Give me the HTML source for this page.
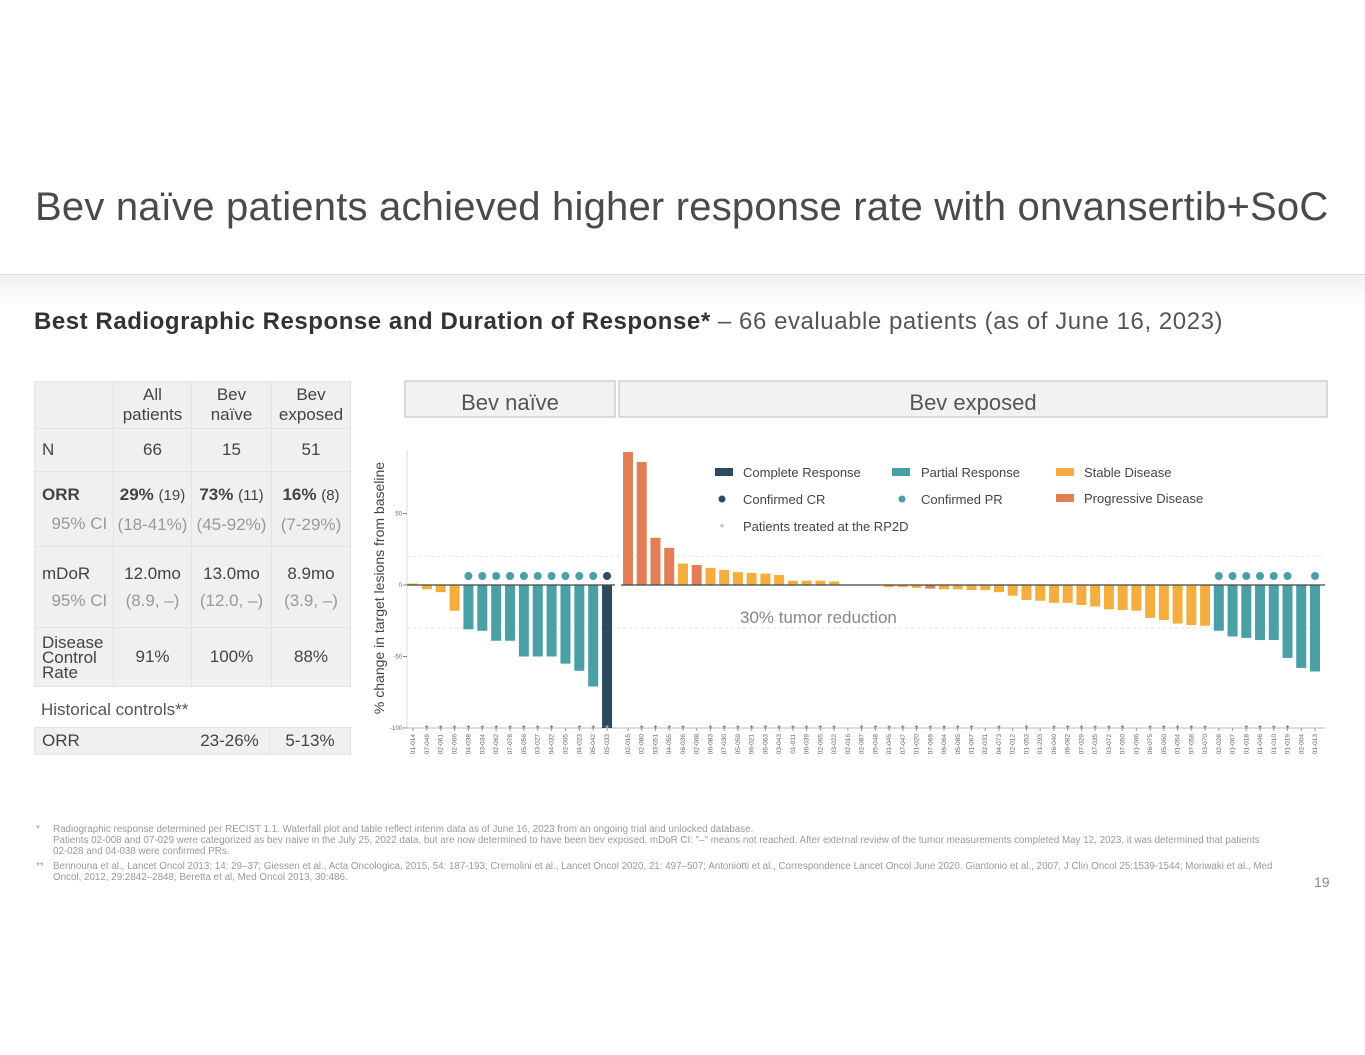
<!DOCTYPE html>
<html><head><meta charset="utf-8">
<style>
body{margin:0;width:1365px;height:1055px;position:relative;background:#fff;font-family:"Liberation Sans",sans-serif;overflow:hidden}
.abs{position:absolute}
#title{left:35px;top:185px;font-size:40px;color:#4a4a4a;white-space:nowrap;letter-spacing:0.2px}
#band{left:0;top:274px;width:1365px;height:30px;border-top:1px solid #ddd;background:linear-gradient(#f1f1f1,#fff)}
#sub{left:34px;top:308px;font-size:24px;color:#555;white-space:nowrap;letter-spacing:0.55px}
#sub b{color:#333}
table{border-collapse:collapse;font-size:17px;color:#444}
td{background:#f0f0f0;border:1px solid #e3e3e3;text-align:center;padding:0}
.l{text-align:left;padding-left:7px}
.g{color:#999}
#foot{left:36px;top:824px;font-size:9.8px;color:#999;line-height:11px;width:1300px;white-space:nowrap}
#foot div{position:relative;padding-left:17px}
#foot span{position:absolute;left:0}
#pg{left:1314px;top:874px;font-size:14px;color:#888}
</style></head><body>
<div id="title" class="abs">Bev naïve patients achieved higher response rate with onvansertib+SoC</div>
<div id="band" class="abs"></div>
<div id="sub" class="abs"><b>Best Radiographic Response and Duration of Response*</b> – 66 evaluable patients (as of June 16, 2023)</div>

<table class="abs" style="left:34px;top:381px;width:317px">
<tr style="height:47px"><td style="width:78px"></td><td style="width:77px">All<br>patients</td><td style="width:79px">Bev<br>naïve</td><td>Bev<br>exposed</td></tr>
<tr style="height:43px"><td class="l">N</td><td>66</td><td>15</td><td>51</td></tr>
<tr style="height:75px"><td class="l" style="line-height:29px"><b>ORR</b><br><span class="g">&nbsp;&nbsp;95% CI</span></td><td style="line-height:29px"><b>29%</b> <span style="font-size:15px">(19)</span><br><span class="g">(18-41%)</span></td><td style="line-height:29px"><b>73%</b> <span style="font-size:15px">(11)</span><br><span class="g">(45-92%)</span></td><td style="line-height:29px"><b>16%</b> <span style="font-size:15px">(8)</span><br><span class="g">(7-29%)</span></td></tr>
<tr style="height:81px"><td class="l" style="line-height:27px">mDoR<br><span class="g">&nbsp;&nbsp;95% CI</span></td><td style="line-height:27px">12.0mo<br><span class="g">(8.9, –)</span></td><td style="line-height:27px">13.0mo<br><span class="g">(12.0, –)</span></td><td style="line-height:27px">8.9mo<br><span class="g">(3.9, –)</span></td></tr>
<tr style="height:59px"><td class="l" style="line-height:15px">Disease<br>Control<br>Rate</td><td>91%</td><td>100%</td><td>88%</td></tr>
</table>
<div class="abs" style="left:41px;top:700px;font-size:17px;color:#555">Historical controls**</div>
<table class="abs" style="left:34px;top:727px;width:317px">
<tr style="height:27px"><td class="l" style="width:148px;border-right:none">ORR</td><td style="width:79px;border-left:none">23-26%</td><td>5-13%</td></tr>
</table>

<svg id="chart" class="abs" style="left:0;top:0" width="1365" height="1055"></svg>

<div id="foot" class="abs">
<div><span>*</span>Radiographic response determined per RECIST 1.1. Waterfall plot and table reflect interim data as of June 16, 2023 from an ongoing trial and unlocked database.<br>Patients 02-008 and 07-029 were categorized as bev naive in the July 25, 2022 data, but are now determined to have been bev exposed. mDoR CI: "–" means not reached. After external review of the tumor measurements completed May 12, 2023, it was determined that patients<br>02-028 and 04-038 were confirmed PRs.</div>
<div style="margin-top:4px"><span>**</span>Bennouna et al., Lancet Oncol 2013; 14: 29–37; Giessen et al., Acta Oncologica, 2015, 54: 187-193; Cremolini et al., Lancet Oncol 2020, 21: 497–507; Antoniotti et al., Correspondence Lancet Oncol June 2020. Giantonio et al., 2007, J Clin Oncol 25:1539-1544; Moriwaki et al., Med<br>Oncol, 2012, 29:2842–2848; Beretta et al, Med Oncol 2013, 30:486.</div>
</div>
<div id="pg" class="abs">19</div>

<script>
const naiveIds=["01-014","07-049","02-061","02-066","04-038","03-034","02-062","07-078","05-056","03-027","04-032","02-005","04-023","05-042","05-033"];
const naiveVals=[1,-3,-5,-18,-31,-32,-39,-39,-50,-50,-50,-55,-60,-71,-100];
const naiveResp=["SD","SD","SD","SD","PR","PR","PR","PR","PR","PR","PR","PR","PR","PR","CR"];
const naiveConf=[0,0,0,0,1,1,1,1,1,1,1,1,1,1,1];
const naiveRp2d=[0,1,1,1,1,1,1,1,1,1,1,0,1,1,1];
const expIds=["02-015","02-080","03-051","04-055","06-036","02-008","06-083","07-030","05-059","06-021","06-063","03-043","01-011","06-039","02-065","03-022","02-016","02-087","05-048","01-045","07-047","01-020","07-069","06-064","05-085","01-067","02-031","04-073","02-012","01-053","01-203","06-040","06-082","07-029","07-035","03-072","07-050","01-006","06-075","05-060","01-054","07-058","03-070","02-028","01-007","01-018","01-046","01-010","01-019","02-004","01-013"];
const expVals=[93,86,33,26,15,14,12,10.5,9,8.5,8,7,3,3,3,2.5,0,0,0,-1.5,-1.5,-2,-2.5,-3,-3,-3.5,-3.5,-5,-7.5,-10.5,-11,-12.5,-12.5,-14,-15,-17,-17.5,-18,-23,-24.5,-27,-28,-28.5,-32,-36,-37,-38.5,-38.5,-51,-58,-60.5];
const expResp=["PD","PD","PD","PD","SD","PD","SD","SD","SD","SD","SD","SD","SD","SD","SD","SD","SD","SD","SD","SD","SD","SD","PD","SD","SD","SD","SD","SD","SD","SD","SD","SD","SD","SD","SD","SD","SD","SD","SD","SD","SD","SD","SD","PR","PR","PR","PR","PR","PR","PR","PR"];
const expConf=[0,0,0,0,0,0,0,0,0,0,0,0,0,0,0,0,0,0,0,0,0,0,0,0,0,0,0,0,0,0,0,0,0,0,0,0,0,0,0,0,0,0,0,1,1,1,1,1,1,0,1];
const expRp2d=[0,1,1,1,1,0,1,1,1,1,1,1,1,1,1,1,0,1,1,1,1,1,1,1,1,1,0,1,0,1,0,1,1,1,1,1,1,0,1,1,1,1,1,0,0,1,1,1,1,0,0];
const yTicks=[50,0,-50,-100];

const NS="http://www.w3.org/2000/svg";
const svg=document.getElementById('chart');
const col={CR:"#2d4b5f",PR:"#4aa0a5",SD:"#f4ae3f",PD:"#e27d55"};
function y(v){return 585-v*1.43;}
function xN(i){return 413+i*13.86;}
function xE(i){return 628+i*13.74;}
function mk(tag,a,parent){const e=document.createElementNS(NS,tag);for(const k in a)e.setAttribute(k,a[k]);(parent||svg).appendChild(e);return e;}

let h=mk('rect',{x:405,y:381,width:210,height:36,fill:"#f1f2f1",stroke:"#bbb"});


let t=mk('text',{x:510,y:410,"text-anchor":"middle","font-size":22,fill:"#555","font-family":"Liberation Sans"});t.textContent="Bev naïve";
h=mk('rect',{x:619,y:381,width:708,height:36,fill:"#f1f2f1",stroke:"#bbb"});


t=mk('text',{x:973,y:410,"text-anchor":"middle","font-size":22,fill:"#555","font-family":"Liberation Sans"});t.textContent="Bev exposed";

t=mk('text',{x:0,y:0,transform:"translate(384,588) rotate(-90)","text-anchor":"middle","font-size":14,fill:"#444","font-family":"Liberation Sans"});


t.textContent="% change in target lesions from baseline";

[20,-30].forEach(v=>mk('line',{x1:407,x2:1325,y1:y(v),y2:y(v),stroke:"#e4e4e4","stroke-dasharray":"3,3"}));
mk('line',{x1:407,x2:407,y1:450,y2:728,stroke:"#ddd"});
yTicks.forEach(v=>{
 mk('line',{x1:403,x2:407,y1:y(v),y2:y(v),stroke:"#888"});
 const tt=mk('text',{x:402,y:y(v)+2,"text-anchor":"end","font-size":6,fill:"#666","font-family":"Liberation Sans"});
 
 
 tt.textContent=v;
});
mk('line',{x1:407,x2:1325,y1:728,y2:728,stroke:"#bbb"});
mk('text',{x:740,y:623,"font-size":17,fill:"#888","font-family":"Liberation Sans"}).textContent="30% tumor reduction";

function drawSet(ids,vals,resp,conf,rp2d,xf){
 ids.forEach((id,i)=>{
  const cx=xf(i),v=vals[i];
  if(v!==0){
   const r=mk('rect',{x:cx-5,y:Math.min(y(v),y(0)),width:10,height:Math.abs(y(v)-y(0)),fill:col[resp[i]]});
   
   
  }
  if(conf[i]){
   const c=mk('circle',{cx:cx,cy:576,r:4,fill:resp[i]==="CR"?col.CR:col.PR});
   
   
  }
  if(rp2d[i]){
   const s=mk('text',{x:cx,y:732,"text-anchor":"middle","font-size":10,fill:resp[i]==="CR"?"#ccc":"#666","font-family":"Liberation Sans"});
   
   
   s.textContent="*";
  }
  mk('line',{x1:cx,x2:cx,y1:728,y2:731,stroke:"#999"});
  const l=mk('text',{x:0,y:0,transform:`translate(${cx+2},734) rotate(-90)`,"text-anchor":"end","font-size":6.5,fill:"#666","font-family":"Liberation Sans"});
  
  
  l.textContent=id;
 });
}
drawSet(naiveIds,naiveVals,naiveResp,naiveConf,naiveRp2d,xN);
drawSet(expIds,expVals,expResp,expConf,expRp2d,xE);
mk('line',{x1:407,x2:615,y1:585,y2:585,stroke:"#444","stroke-width":1.3});
mk('line',{x1:621,x2:1325,y1:585,y2:585,stroke:"#444","stroke-width":1.3});

const lg=[["rect",715,472,col.CR,"Complete  Response",743],["rect",892,472,col.PR,"Partial Response",921],["rect",1056,472,col.SD,"Stable Disease",1084],
["dot",722,499,col.CR,"Confirmed CR",743],["dot",902,499,col.PR,"Confirmed PR",921],["rect",1056,498,col.PD,"Progressive Disease",1084],["star",722,526,"#aaa","Patients treated at the RP2D",743]];
lg.forEach(e=>{
 if(e[0]==="rect")mk('rect',{x:e[1],y:e[2]-4,width:18,height:8,fill:e[3]});
 else if(e[0]==="dot")mk('circle',{cx:e[1],cy:e[2],r:3.5,fill:e[3]});
 else mk('text',{x:e[1],y:e[2]+6,"text-anchor":"middle","font-size":12,fill:e[3]}).textContent="*";
 const tx=mk('text',{x:e[5],y:e[2]+5,"font-size":13,fill:"#444","font-family":"Liberation Sans"});
 
 
 tx.textContent=e[4];
});
</script>
</body></html>
